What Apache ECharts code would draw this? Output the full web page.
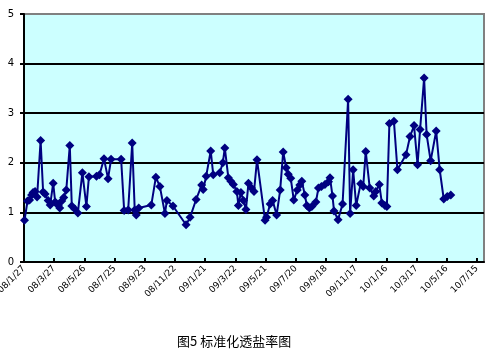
<!DOCTYPE html>
<html>
<head>
<meta charset="utf-8">
<script src="https://cdn.jsdelivr.net/npm/echarts@6/dist/echarts.min.js"></script>
<style>
  html, body { margin: 0; padding: 0; background: #ffffff; }
  #chart { width: 496px; height: 352px; }
</style>
</head>
<body>
<div id="chart"></div>
<script>
// tanggal awal sumbu: 2008-01-27, x = hari sejak tanggal itu
var startDate = Date.UTC(2008, 0, 27);

var days = [
    1, 7, 11, 15, 18, 22, 26, 33, 38, 42, 48, 52, 58, 62, 68, 71, 75, 79, 84, 91,
    95, 101, 107, 116, 124, 129, 144, 150, 159, 167, 173, 193, 199, 207, 215, 220, 223, 228, 253, 262,
    270, 280, 284, 296, 322, 330, 342, 353, 356, 362, 371, 376, 389, 395, 399, 406, 411, 416, 423, 426,
    431, 436, 441, 446, 452, 457, 463, 479, 482, 489, 494, 502, 509, 515, 521, 525, 530, 536, 543, 548,
    552, 558, 562, 567, 572, 580, 585, 591, 598, 605, 608, 613, 616, 624, 633, 644, 648, 654, 660, 669,
    674, 679, 687, 695, 699, 706, 711, 717, 721, 726, 735, 742, 759, 767, 775, 782, 787, 795, 800, 808,
    819, 826, 834, 841, 848
];

var values = [
    0.84, 1.23, 1.25, 1.35, 1.40, 1.42, 1.31, 2.45, 1.41, 1.37, 1.24, 1.15, 1.59, 1.21, 1.14, 1.09, 1.23, 1.30, 1.45, 2.35,
    1.13, 1.07, 0.99, 1.80, 1.12, 1.72, 1.73, 1.76, 2.08, 1.68, 2.07, 2.07, 1.04, 1.05, 2.40, 1.05, 0.95, 1.09, 1.15, 1.71,
    1.52, 0.98, 1.24, 1.13, 0.75, 0.90, 1.26, 1.55, 1.46, 1.73, 2.24, 1.76, 1.80, 2.00, 2.30, 1.70, 1.63, 1.56, 1.42, 1.14,
    1.40, 1.24, 1.06, 1.59, 1.49, 1.42, 2.06, 0.84, 0.90, 1.17, 1.24, 0.95, 1.45, 2.22, 1.90, 1.77, 1.69, 1.25, 1.45, 1.55,
    1.63, 1.35, 1.14, 1.09, 1.12, 1.21, 1.49, 1.52, 1.56, 1.62, 1.70, 1.33, 1.03, 0.85, 1.17, 3.28, 0.98, 1.86, 1.14, 1.58,
    1.52, 2.23, 1.49, 1.33, 1.42, 1.56, 1.19, 1.14, 1.12, 2.79, 2.84, 1.86, 2.16, 2.53, 2.75, 1.96, 2.67, 3.71, 2.57, 2.04,
    2.64, 1.86, 1.27, 1.32, 1.35
];

var titleText = "图5 标准化透盐率图";

function formatDay(v) {
    if (v % 60 !== 0) return "";
    var d = new Date(startDate + v * 86400000);
    var yy = String(d.getUTCFullYear()).slice(2);
    return yy + "/" + (d.getUTCMonth() + 1) + "/" + d.getUTCDate();
}

var chart = echarts.init(document.getElementById("chart"));

var points = days.map(function (d, i) {
    return [d, values[i]];
});

var option = {
    animation: false,
    title: {
        text: titleText,
        left: 172,
        top: 330,
        textStyle: {
            fontFamily: "Noto Sans CJK SC",
            fontSize: 13,
            fontWeight: "normal",
            color: "#000000"
        }
    },
    grid: {
        left: 24,
        right: 12,
        top: 14,
        bottom: 90,
        outerBoundsMode: "none",
        containLabel: false,
        show: true,
        backgroundColor: "#CCFFFF",
        borderColor: "#808080",
        borderWidth: 2
    },
    xAxis: {
        type: "value",
        min: 0,
        max: 914,
        interval: 60,
        axisLine: { lineStyle: { color: "#000000", width: 2 } },
        axisTick: { inside: true, length: 4, lineStyle: { color: "#000000", width: 2 } },
        axisLabel: {
            rotate: 45,
            margin: 5,
            fontSize: 9,
            fontFamily: "DejaVu Sans",
            color: "#000000",
            showMaxLabel: false,
            formatter: formatDay
        },
        splitLine: { show: false }
    },
    yAxis: {
        type: "value",
        min: 0,
        max: 5,
        interval: 1,
        axisLine: { show: true, lineStyle: { color: "#000000", width: 2 } },
        axisTick: { show: true, length: 4, lineStyle: { color: "#000000", width: 2 } },
        axisLabel: {
            margin: 10,
            fontSize: 10,
            fontFamily: "DejaVu Sans",
            color: "#000000"
        },
        splitLine: {
            show: true,
            showMaxLine: false,
            lineStyle: { color: "#000000", width: 2 }
        }
    },
    series: [
        {
            type: "line",
            data: points,
            symbol: "diamond",
            symbolSize: 9,
            showAllSymbol: true,
            lineStyle: { color: "#000080", width: 2 },
            itemStyle: { color: "#000080" }
        }
    ]
};

chart.setOption(option);
</script>
</body>
</html>
